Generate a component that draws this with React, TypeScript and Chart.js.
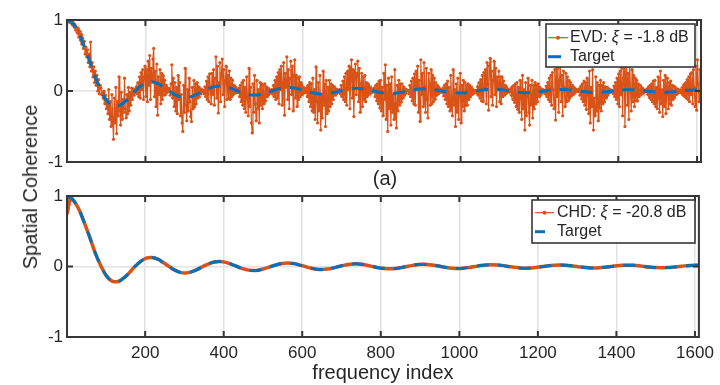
import React, { useEffect, useRef } from 'react';
import { Chart, registerables } from 'chart.js';

Chart.register(...registerables);

// ---------- data ----------
const X_MIN = 1;
const X_MAX = 1610;
const X_TICKS = [200, 400, 600, 800, 1000, 1200, 1400, 1600];
const Y_TICKS = [-1, 0, 1];

const TARGET_X = [1, 15, 30, 44, 59, 73, 88, 102, 116, 131, 145, 160, 174, 189, 203, 217, 232, 246, 261, 275, 289, 304, 318, 333, 347, 362, 376, 390, 405, 419, 434, 448, 463, 477, 491, 506, 520, 535, 549, 564, 578, 592, 607, 621, 636, 650, 664, 679, 693, 708, 722, 737, 751, 765, 780, 794, 809, 823, 838, 852, 866, 881, 895, 910, 924, 939, 953, 967, 982, 996, 1011, 1025, 1040, 1054, 1068, 1083, 1097, 1112, 1126, 1140, 1155, 1169, 1184, 1198, 1213, 1227, 1241, 1256, 1270, 1285, 1299, 1314, 1328, 1342, 1357, 1371, 1386, 1400, 1415, 1429, 1443, 1458, 1472, 1487, 1501, 1516, 1530, 1544, 1559, 1573, 1588, 1602, 1610];
const TARGET_Y = [
  1, 0.9549, 0.8270, 0.6366, 0.4135, 0.1910,
  0, -0.1364, -0.2067, -0.2122, -0.1654, -0.0868,
  0, 0.0735, 0.1181, 0.1273, 0.1034, 0.0562,
  0, -0.0503, -0.0827, -0.0909, -0.0752, -0.0415,
  0, 0.0382, 0.0636, 0.0707, 0.0591, 0.0329,
  0, -0.0308, -0.0517, -0.0579, -0.0486, -0.0273,
  0, 0.0258, 0.0435, 0.0490, 0.0413, 0.0233,
  0, -0.0222, -0.0376, -0.0424, -0.0360, -0.0203,
  0, 0.0195, 0.0331, 0.0375, 0.0318, 0.0180,
  0, -0.0174, -0.0295, -0.0335, -0.0285, -0.0162,
  0, 0.0157, 0.0267, 0.0303, 0.0258, 0.0147,
  0, -0.0143, -0.0243, -0.0277, -0.0236, -0.0134,
  0, 0.0131, 0.0224, 0.0255, 0.0218, 0.0124,
  0, -0.0121, -0.0207, -0.0236, -0.0202, -0.0115,
  0, 0.0112, 0.0192, 0.0220, 0.0188, 0.0107,
  0, -0.0105, -0.0180, -0.0205, -0.0176, -0.0101,
  0, 0.0098, 0.0169, 0.0193, 0.0165, 0.0095,
  0, -0.0093, -0.0159, -0.0182, -0.0156, -0.0089,
  0, 0.0088, 0.0150, 0.0172, 0.0164,
];

// CHD estimate: a few deviating values at the very start, then on the target
const CHD_HEAD_X = [1, 2, 3, 4, 5, 6, 7, 8, 9, 10, 11, 12];
const CHD_HEAD_Y = [1.0, 0.76, 0.96, 0.8, 0.97, 0.87, 0.99, 0.92, 0.98, 0.96, 0.99, 0.975];

// EVD estimate, read every 2 frequency indices starting at index 1
const EVD_START = 1;
const EVD_STEP = 2;
const EVD_Y = [
  // 1 .. 85
  1.00, 0.99, 1.00, 0.97, 0.99, 0.96, 0.98, 0.93, 0.96, 0.90, 0.94, 0.86, 0.90, 0.82, 0.88, 0.76, 0.84, 0.72, 0.80, 0.66, 0.74, 0.60,
  0.70, 0.52, 0.62, 0.48, 0.58, 0.40, 0.52, 0.34, 0.69, 0.28, 0.40, 0.20, 0.34, 0.12, 0.28, 0.08, 0.22, 0.00, 0.16, -0.04, 0.08,
  // 87 .. 173
  0.04, -0.05, -0.02, -0.10, 0.00, -0.18, -0.06, -0.25, -0.12, -0.32, 0.02, -0.40, -0.15, -0.50, -0.05, -0.38, -0.68, -0.10, -0.45, 0.05, -0.60, -0.15,
  -0.35, 0.20, -0.28, -0.48, -0.02, -0.40, -0.12, -0.30, 0.18, -0.25, -0.38, -0.05, -0.32, 0.05, -0.28, -0.02, -0.20, 0.04, -0.12, 0.03, -0.06, 0.02,
  // 175 .. 259
  -0.02, 0.06, -0.04, 0.12, -0.08, 0.20, -0.10, 0.26, 0.02, 0.30, -0.12, 0.20, 0.35, -0.08, 0.30, -0.15, 0.42, 0.08, 0.50, -0.12, 0.32, 0.15,
  0.45, 0.60, -0.08, 0.28, -0.22, 0.38, -0.34, 0.20, -0.05, 0.30, -0.18, 0.25, -0.12, 0.22, -0.06, 0.15, -0.05, 0.08, -0.02, 0.04, 0.00,
  // 261 .. 345
  0.03, -0.06, 0.10, 0.37, -0.10, 0.18, -0.22, 0.12, -0.28, 0.05, -0.32, 0.22, -0.12, 0.12, -0.35, -0.05, -0.45, -0.57, 0.08, -0.30, 0.32, -0.20,
  -0.42, 0.02, -0.28, 0.18, -0.15, -0.36, -0.43, 0.05, -0.25, 0.15, -0.22, 0.10, -0.18, 0.12, -0.10, 0.06, -0.08, 0.03, -0.04, 0.02, -0.01,
  // 347 .. 433
  0.01, -0.04, 0.06, -0.08, 0.14, -0.12, 0.20, -0.15, 0.24, 0.02, -0.18, 0.25, -0.05, 0.30, -0.20, 0.18, 0.48, -0.10, 0.35, -0.31, 0.12, 0.40,
  -0.15, 0.25, 0.45, -0.05, 0.30, -0.22, 0.15, 0.35, -0.12, 0.22, -0.10, 0.28, -0.12, 0.18, -0.08, 0.15, -0.05, 0.08, -0.03, 0.05, -0.02, 0.02,
  // 435 .. 519
  -0.02, 0.04, -0.08, 0.08, -0.15, 0.12, -0.20, 0.15, -0.25, 0.05, -0.30, 0.20, -0.10, -0.35, 0.32, -0.22, 0.05, -0.45, -0.59, 0.10, -0.30, 0.22,
  -0.18, -0.42, 0.15, -0.25, 0.02, -0.45, 0.12, -0.20, 0.10, -0.25, 0.08, -0.18, 0.10, -0.14, 0.06, -0.08, 0.04, -0.05, 0.02, -0.03, 0.00,
  // 521 .. 605
  0.02, -0.04, 0.08, -0.08, 0.15, -0.12, 0.20, -0.10, 0.26, -0.18, 0.30, 0.02, 0.35, -0.20, 0.12, 0.40, -0.34, 0.25, 0.05, 0.48, -0.12, 0.30,
  -0.25, 0.18, 0.42, -0.05, 0.35, -0.28, 0.22, 0.44, -0.10, 0.22, -0.22, 0.18, -0.12, 0.20, -0.08, 0.12, -0.05, 0.06, -0.03, 0.04, 0.00,
  // 607 .. 691
  -0.02, 0.04, -0.08, 0.08, -0.15, 0.12, -0.22, 0.10, -0.28, 0.18, -0.30, 0.02, -0.40, 0.34, -0.15, -0.45, 0.12, -0.28, 0.22, -0.55, -0.05, -0.38,
  0.28, -0.20, 0.10, -0.50, 0.15, -0.32, 0.05, -0.28, 0.15, -0.22, 0.10, -0.18, 0.08, -0.12, 0.06, -0.06, 0.03, -0.04, 0.02, -0.02, 0.01,
  // 693 .. 777
  0.02, -0.04, 0.08, -0.08, 0.14, -0.12, 0.20, -0.15, 0.25, -0.20, 0.28, 0.02, 0.35, -0.25, 0.15, 0.44, -0.10, 0.30, -0.36, 0.20, 0.38, -0.05,
  0.25, 0.42, -0.15, 0.32, -0.30, 0.10, 0.25, -0.22, 0.20, -0.12, 0.22, -0.15, 0.12, -0.08, 0.10, -0.05, 0.06, -0.03, 0.04, -0.02, 0.01,
  // 779 .. 865
  -0.01, 0.04, -0.08, 0.08, -0.14, 0.10, -0.18, 0.14, -0.24, 0.15, -0.28, 0.05, -0.35, 0.25, -0.12, 0.37, -0.40, 0.08, -0.57, 0.18, -0.25, 0.10,
  -0.48, 0.20, -0.30, -0.05, -0.40, 0.30, -0.18, -0.52, 0.08, -0.28, 0.15, -0.20, 0.10, -0.16, 0.10, -0.10, 0.06, -0.06, 0.03, -0.03, 0.02, 0.00,
  // 867 .. 951
  0.01, -0.04, 0.08, -0.08, 0.14, -0.14, 0.18, -0.18, 0.24, -0.20, 0.28, 0.02, 0.35, -0.30, 0.15, -0.43, 0.44, -0.05, 0.25, -0.22, 0.40, 0.05,
  -0.30, 0.32, -0.12, -0.38, 0.25, 0.10, -0.20, 0.30, -0.18, 0.22, -0.15, 0.18, -0.12, 0.12, -0.06, 0.08, -0.04, 0.05, -0.02, 0.02, 0.00,
  // 953 .. 1037
  -0.02, 0.04, -0.07, 0.08, -0.12, 0.10, -0.18, 0.14, -0.22, 0.05, -0.28, 0.22, -0.12, -0.35, 0.30, -0.20, 0.02, -0.50, 0.10, -0.30, 0.18, -0.40,
  -0.05, 0.25, -0.45, 0.08, -0.22, 0.15, -0.28, 0.12, -0.20, 0.08, -0.20, 0.10, -0.12, 0.08, -0.08, 0.05, -0.05, 0.02, -0.03, 0.01, 0.00,
  // 1039 .. 1123
  0.01, -0.03, 0.06, -0.06, 0.12, -0.10, 0.16, -0.14, 0.22, -0.15, 0.26, 0.02, 0.30, -0.18, 0.40, 0.10, -0.27, 0.35, 0.46, -0.08, 0.28, -0.20,
  0.15, 0.42, -0.05, 0.32, -0.22, 0.20, 0.05, 0.28, -0.15, 0.20, -0.18, 0.20, -0.08, 0.14, -0.06, 0.08, -0.04, 0.05, -0.02, 0.02, 0.00,
  // 1125 .. 1211
  -0.01, 0.03, -0.06, 0.06, -0.12, 0.08, -0.16, 0.10, -0.22, 0.12, -0.26, 0.05, -0.30, 0.15, -0.10, -0.40, 0.22, -0.25, 0.02, -0.55, 0.12, -0.35,
  -0.08, 0.18, -0.30, -0.48, 0.08, -0.20, 0.15, -0.38, 0.08, -0.25, 0.12, -0.18, 0.08, -0.15, 0.10, -0.08, 0.05, -0.06, 0.02, -0.03, 0.02, 0.00,
  // 1213 .. 1297
  0.01, -0.04, 0.07, -0.08, 0.12, -0.12, 0.18, -0.15, 0.22, -0.20, 0.26, 0.02, -0.25, 0.30, -0.41, 0.40, -0.08, 0.32, -0.30, 0.15, 0.38, -0.15,
  0.22, -0.35, 0.28, 0.05, -0.22, 0.25, -0.15, 0.20, -0.14, 0.15, -0.10, 0.12, -0.07, 0.08, -0.05, 0.05, -0.03, 0.03, -0.01, 0.02, 0.00,
  // 1299 .. 1383
  -0.01, 0.03, -0.06, 0.07, -0.11, 0.10, -0.15, 0.14, -0.20, 0.12, -0.26, 0.18, -0.05, -0.32, 0.28, -0.45, 0.05, -0.22, 0.30, -0.55, -0.10, -0.35,
  0.20, -0.28, 0.12, -0.42, 0.08, -0.24, 0.15, -0.28, 0.08, -0.18, 0.12, -0.15, 0.06, -0.10, 0.05, -0.06, 0.03, -0.03, 0.02, -0.01, 0.00,
  // 1385 .. 1469
  0.01, -0.04, 0.07, -0.08, 0.12, -0.12, 0.18, -0.18, 0.24, -0.22, 0.28, -0.05, 0.32, -0.35, 0.18, 0.45, -0.50, 0.10, 0.35, -0.20, 0.25, -0.40,
  0.40, 0.02, -0.28, 0.30, -0.15, 0.22, -0.22, 0.18, -0.14, 0.15, -0.14, 0.10, -0.08, 0.08, -0.05, 0.05, -0.03, 0.03, -0.02, 0.01, 0.00,
  // 1471 .. 1557
  -0.01, 0.03, -0.05, 0.06, -0.09, 0.08, -0.12, 0.10, -0.15, 0.14, -0.18, 0.15, -0.22, 0.05, -0.25, 0.20, -0.10, -0.30, 0.28, -0.18, 0.02, -0.36,
  0.15, -0.22, 0.22, -0.32, -0.05, 0.18, -0.25, 0.12, -0.18, 0.14, -0.20, 0.08, -0.12, 0.07, -0.09, 0.05, -0.05, 0.03, -0.03, 0.02, -0.02, 0.00,
  // 1559 .. 1609
  0.01, -0.03, 0.05, -0.06, 0.09, -0.08, 0.12, -0.10, 0.16, -0.12, 0.20, -0.15, 0.24, -0.05, 0.26, -0.18, 0.30, 0.05, -0.22, 0.35, -0.27, 0.44,
  0.10, -0.15, 0.30, -0.05,
];

const EVD_LABEL = [{ text: 'EVD: ' }, { text: 'ξ', italic: true }, { text: ' = -1.8 dB' }];
const CHD_LABEL = [{ text: 'CHD: ' }, { text: 'ξ', italic: true }, { text: ' = -20.8 dB' }];
const TARGET_LABEL = [{ text: 'Target' }];
const X_TITLE = 'frequency index';
const Y_TITLE = 'Spatial Coherence';
const PANEL_A = '(a)';

// ---------- styles ----------
const ORANGE = '#D95319';
const BLUE = '#0072BD';
const TEXT = '#262626';
const FRAME = '#363636';
const GRID = '#e2e2e2';
const FONT = '"Liberation Sans", Arial, Helvetica, sans-serif';
const TICK_LEN = 6;
const TICK_FONT = 17;

type Part = { text: string; italic?: boolean };
type Row = { kind: 'marker' | 'dash'; parts: Part[] };
type LegendSpec = {
  box: [number, number, number, number];
  sample: [number, number];
  dash: [number, number];
  textX: number;
  rowY: number[];
  rows: Row[];
};

function makeFramePlugin(spec: LegendSpec) {
  return {
    id: 'frameLegend',
    afterDraw(chart: any) {
      const { ctx, chartArea: a } = chart;
      const xs = chart.scales.x;
      const ys = chart.scales.y;
      ctx.save();
      ctx.setLineDash([]);
      ctx.strokeStyle = FRAME;
      ctx.lineWidth = 2;
      ctx.beginPath();
      for (const v of X_TICKS) {
        const p = xs.getPixelForValue(v);
        ctx.moveTo(p, a.bottom);
        ctx.lineTo(p, a.bottom - TICK_LEN);
        ctx.moveTo(p, a.top);
        ctx.lineTo(p, a.top + TICK_LEN);
      }
      for (const v of Y_TICKS) {
        const p = ys.getPixelForValue(v);
        ctx.moveTo(a.left, p);
        ctx.lineTo(a.left + TICK_LEN, p);
        ctx.moveTo(a.right, p);
        ctx.lineTo(a.right - TICK_LEN, p);
      }
      ctx.stroke();
      ctx.strokeRect(a.left, a.top, a.right - a.left, a.bottom - a.top);

      // legend box
      const [x0, y0, x1, y1] = spec.box;
      ctx.fillStyle = '#ffffff';
      ctx.fillRect(x0, y0, x1 - x0, y1 - y0);
      ctx.lineWidth = 1.6;
      ctx.strokeStyle = FRAME;
      ctx.strokeRect(x0, y0, x1 - x0, y1 - y0);
      spec.rows.forEach((row, r) => {
        const y = spec.rowY[r];
        const [s0, s1] = spec.sample;
        if (row.kind === 'marker') {
          ctx.setLineDash([]);
          ctx.strokeStyle = ORANGE;
          ctx.lineWidth = 1.2;
          ctx.beginPath();
          ctx.moveTo(s0, y);
          ctx.lineTo(s1, y);
          ctx.stroke();
          ctx.fillStyle = ORANGE;
          ctx.beginPath();
          ctx.arc((s0 + s1) / 2, y, 2, 0, Math.PI * 2);
          ctx.fill();
        } else {
          ctx.strokeStyle = BLUE;
          ctx.lineWidth = 3;
          ctx.setLineDash(spec.dash);
          ctx.beginPath();
          ctx.moveTo(s0, y);
          ctx.lineTo(s1, y);
          ctx.stroke();
          ctx.setLineDash([]);
        }
        let x = spec.textX;
        ctx.fillStyle = TEXT;
        ctx.textBaseline = 'middle';
        ctx.textAlign = 'left';
        for (const p of row.parts) {
          ctx.font = `${p.italic ? 'italic ' : ''}16px ${FONT}`;
          ctx.fillText(p.text, x, y);
          x += ctx.measureText(p.text).width;
        }
      });
      ctx.restore();
    },
  };
}

function buildConfig(opts: {
  datasets: any[];
  padTop: number;
  xHeight: number;
  showX: boolean;
  legend: LegendSpec;
}): any {
  return {
    type: 'line',
    data: { datasets: opts.datasets },
    options: {
      animation: false,
      responsive: false,
      maintainAspectRatio: false,
      events: [],
      layout: { autoPadding: false, padding: { left: 0, right: 19, top: opts.padTop, bottom: 0 } },
      plugins: { legend: { display: false }, tooltip: { enabled: false } },
      scales: {
        x: {
          type: 'linear',
          min: X_MIN,
          max: X_MAX,
          afterBuildTicks: (s: any) => {
            s.ticks = X_TICKS.map((v) => ({ value: v }));
          },
          afterFit: (s: any) => {
            s.height = opts.xHeight;
          },
          grid: { color: GRID, lineWidth: 1.5, drawTicks: false },
          border: { display: false },
          ticks: {
            display: opts.showX,
            padding: 6,
            maxRotation: 0,
            autoSkip: false,
            color: TEXT,
            font: { family: FONT, size: TICK_FONT },
            callback: (v: any) => String(v),
          },
          title: {
            display: opts.showX,
            text: X_TITLE,
            color: TEXT,
            font: { family: FONT, size: 20 },
            padding: { top: 0, bottom: 0 },
          },
        },
        y: {
          type: 'linear',
          min: -1,
          max: 1,
          afterBuildTicks: (s: any) => {
            s.ticks = Y_TICKS.map((v) => ({ value: v }));
          },
          afterFit: (s: any) => {
            s.width = 67;
          },
          grid: { color: GRID, lineWidth: 1.5, drawTicks: false },
          border: { display: false },
          ticks: {
            padding: 4,
            color: TEXT,
            font: { family: FONT, size: TICK_FONT },
            callback: (v: any) => String(v),
          },
        },
      },
    },
    plugins: [makeFramePlugin(opts.legend)],
  };
}

function targetDataset() {
  return {
    label: 'Target',
    data: TARGET_X.map((x, i) => ({ x, y: TARGET_Y[i] })),
    borderColor: BLUE,
    backgroundColor: BLUE,
    borderWidth: 3,
    borderDash: [12, 9],
    pointRadius: 0,
    tension: 0.4,
    order: 0,
  };
}

export default function App() {
  const topRef = useRef<HTMLCanvasElement>(null);
  const botRef = useRef<HTMLCanvasElement>(null);

  useEffect(() => {
    const evd = {
      label: 'EVD',
      data: EVD_Y.map((y, i) => ({ x: EVD_START + EVD_STEP * i, y })),
      borderColor: ORANGE,
      backgroundColor: ORANGE,
      borderWidth: 1.2,
      pointRadius: 1.6,
      pointBorderWidth: 0,
      pointBackgroundColor: ORANGE,
      tension: 0,
      order: 1,
    };
    const chdX = [...CHD_HEAD_X, ...TARGET_X.slice(1)];
    const chdY = [...CHD_HEAD_Y, ...TARGET_Y.slice(1)];
    const chd = {
      label: 'CHD',
      data: chdX.map((x, i) => ({ x, y: chdY[i] })),
      borderColor: ORANGE,
      backgroundColor: ORANGE,
      borderWidth: 3.5,
      pointRadius: 0,
      tension: 0.4,
      order: 1,
    };
    const top = new Chart(
      topRef.current as HTMLCanvasElement,
      buildConfig({
        datasets: [targetDataset(), evd],
        padTop: 20,
        xHeight: 18,
        showX: false,
        legend: {
          box: [546, 24, 695, 67],
          sample: [548, 568],
          dash: [13, 8],
          textX: 570,
          rowY: [37.7, 56.7],
          rows: [
            { kind: 'marker', parts: EVD_LABEL },
            { kind: 'dash', parts: TARGET_LABEL },
          ],
        },
      })
    );
    const bottom = new Chart(
      botRef.current as HTMLCanvasElement,
      buildConfig({
        datasets: [targetDataset(), chd],
        padTop: 16,
        xHeight: 48,
        showX: true,
        legend: {
          box: [532, 20, 695, 63],
          sample: [535, 554],
          dash: [10, 9],
          textX: 557,
          rowY: [32.7, 51.7],
          rows: [
            { kind: 'marker', parts: CHD_LABEL },
            { kind: 'dash', parts: TARGET_LABEL },
          ],
        },
      })
    );
    return () => {
      top.destroy();
      bottom.destroy();
    };
  }, []);

  return (
    <div style={{ position: 'absolute', left: 0, top: 0, width: 720, height: 385, background: '#ffffff', overflow: 'hidden' }}>
      <canvas ref={topRef} width={720} height={180} style={{ position: 'absolute', left: 0, top: 0, width: 720, height: 180 }} />
      <canvas ref={botRef} width={720} height={205} style={{ position: 'absolute', left: 0, top: 180, width: 720, height: 205 }} />
      <div
        style={{
          position: 'absolute',
          left: 30,
          top: 187,
          transform: 'translate(-50%, -50%) rotate(-90deg)',
          fontFamily: FONT,
          fontSize: 20,
          lineHeight: '24px',
          color: TEXT,
          whiteSpace: 'nowrap',
        }}
      >
        {Y_TITLE}
      </div>
      <div
        style={{
          position: 'absolute',
          left: 385,
          top: 178,
          transform: 'translate(-50%, -50%)',
          fontFamily: FONT,
          fontSize: 20,
          lineHeight: '24px',
          color: TEXT,
          whiteSpace: 'nowrap',
        }}
      >
        {PANEL_A}
      </div>
    </div>
  );
}
